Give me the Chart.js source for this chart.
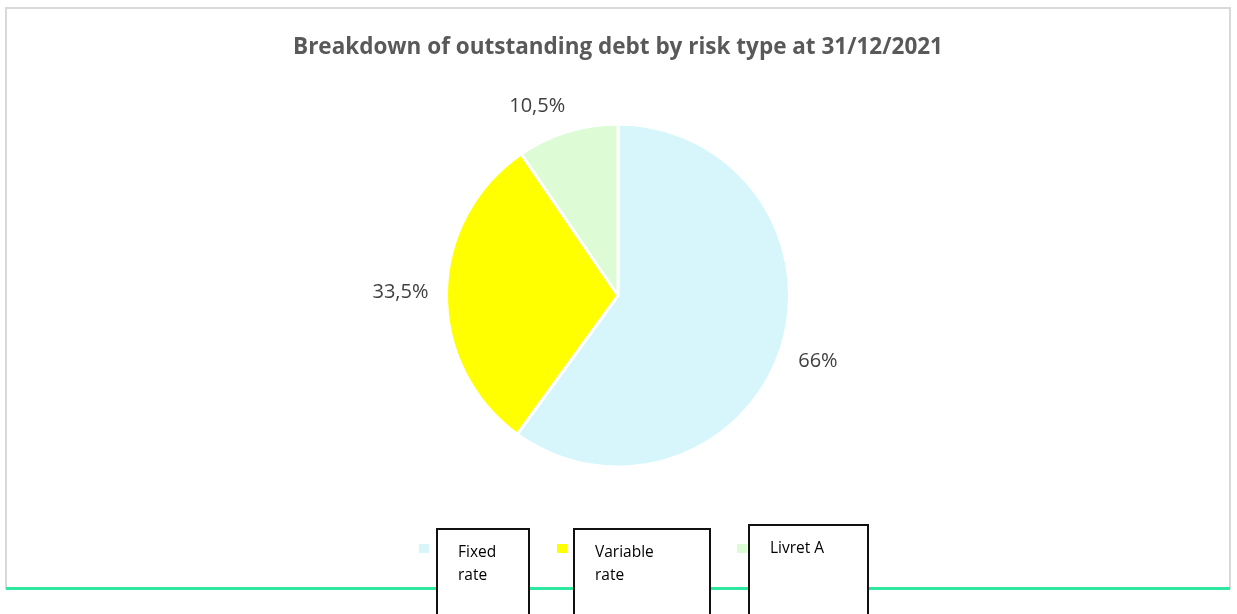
<!DOCTYPE html>
<html lang="en">
<head>
    <meta charset="UTF-8">
    <title>Breakdown of outstanding debt by risk type</title>
    <script src="https://cdn.jsdelivr.net/npm/chart.js"></script>
    <style>
        body {
            margin: 0;
            padding: 0;
            background: #fff;
            width: 1237px;
            height: 614px;
            overflow: hidden;
            position: relative;
            font-family: "Open Sans", Arial, sans-serif;
        }
        .frame {
            position: absolute;
            left: 5px;
            top: 7px;
            width: 1222px;
            height: 578px;
            border: 2px solid #d9d9d9;
        }
        .rule {
            position: absolute;
            left: 6px;
            top: 587px;
            width: 1224px;
            height: 3px;
            background: #2fe8a0;
        }
        #chart-wrap {
            position: absolute;
            left: 0;
            top: 0;
            width: 1237px;
            height: 614px;
        }
        .swatch {
            position: absolute;
            width: 10px;
            height: 9px;
        }
        .legend-box {
            position: absolute;
            background: #fff;
            border: 2px solid #111;
            box-sizing: border-box;
            height: 120px;
            padding: 10px 0 0 20px;
            font-size: 15.5px;
            line-height: 23px;
            color: #000;
        }
    </style>
</head>
<body>
    <div class="frame"></div>
    <div class="rule"></div>
    <div id="chart-wrap"><canvas id="debtChart" width="1237" height="614"></canvas></div>
    <div id="legend"></div>

    <script>
        // Risk types and their share of outstanding debt (%)
        const riskTypes = ['Fixed rate', 'Variable rate', 'Livret A'];
        const shares = [66, 33.5, 10.5];
        const sliceColors = ['#d6f6fb', '#ffff00', '#ddfcd6'];

        // percent labels outside each slice, e.g. "33,5%"
        // the label's nearest edge sits on the slice's mid-angle ray, a bit past the rim
        const outsideLabels = {
            id: 'outsideLabels',
            afterDatasetsDraw(chart) {
                const ctx = chart.ctx;
                const meta = chart.getDatasetMeta(0);
                const clamp = v => Math.max(-1, Math.min(1, v));
                ctx.save();
                ctx.font = '20px "Open Sans", Arial, sans-serif';
                ctx.fillStyle = '#404040';
                ctx.textAlign = 'center';
                ctx.textBaseline = 'middle';
                meta.data.forEach((arc, i) => {
                    const p = arc.getProps(['x', 'y', 'startAngle', 'endAngle', 'outerRadius'], true);
                    const mid = (p.startAngle + p.endAngle) / 2;
                    const ux = Math.cos(mid), uy = Math.sin(mid);
                    const text = String(chart.data.datasets[0].data[i]).replace('.', ',') + '%';
                    const w = ctx.measureText(text).width;
                    const h = 16;
                    const ax = p.x + ux * (p.outerRadius + 18);
                    const ay = p.y + uy * (p.outerRadius + 18);
                    ctx.fillText(text, ax + clamp(ux * 3) * w / 2, ay + clamp(uy * 3) * h / 2);
                });
                ctx.restore();
            }
        };

        const chart = new Chart(document.getElementById('debtChart'), {
            type: 'pie',
            data: {
                labels: riskTypes,
                datasets: [{
                    data: shares,
                    backgroundColor: sliceColors,
                    borderColor: '#ffffff',
                    borderWidth: 3,
                    radius: 171.5
                }]
            },
            options: {
                responsive: false,
                animation: false,
                events: [],
                layout: {
                    padding: { left: 0, right: 1, top: 0, bottom: 94 }
                },
                plugins: {
                    legend: { display: false },
                    tooltip: { enabled: false },
                    title: {
                        display: true,
                        text: 'Breakdown of outstanding debt by risk type at 31/12/2021',
                        color: '#595959',
                        font: { family: '"Open Sans", Arial, sans-serif', size: 22.5, weight: 'bold' },
                        padding: { top: 34, bottom: 10 }
                    }
                }
            },
            plugins: [outsideLabels]
        });

        // legend: colour swatch followed by a boxed label
        const legendSpots = [
            { sx: 419, bx: 436, by: 528, bw: 94, textW: 60 },
            { sx: 557, bx: 573, by: 528, bw: 138, textW: 80 },
            { sx: 737, bx: 748, by: 524, bw: 121, textW: 90 }
        ];
        const legend = document.getElementById('legend');
        riskTypes.forEach((name, i) => {
            const spot = legendSpots[i];
            const sw = document.createElement('div');
            sw.className = 'swatch';
            sw.style.left = spot.sx + 'px';
            sw.style.top = '544px';
            sw.style.background = sliceColors[i];
            legend.appendChild(sw);

            const box = document.createElement('div');
            box.className = 'legend-box';
            box.style.left = spot.bx + 'px';
            box.style.top = spot.by + 'px';
            box.style.width = spot.bw + 'px';
            box.style.paddingRight = (spot.bw - 20 - spot.textW) + 'px';
            box.textContent = name;
            legend.appendChild(box);
        });
    </script>
</body>
</html>
